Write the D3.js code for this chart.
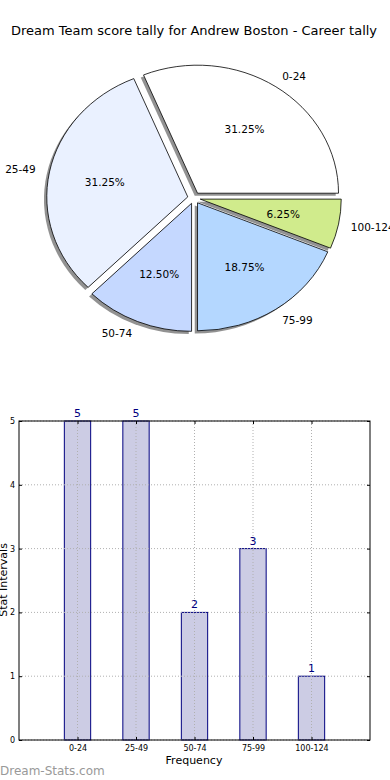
<!DOCTYPE html>
<html><head><meta charset="utf-8">
<script src="https://cdn.jsdelivr.net/npm/d3@7"></script>
<style>body{margin:0;background:#fff;}svg{display:block;font-family:"DejaVu Sans",sans-serif;}</style>
</head><body>
<svg id="c" width="390" height="780"></svg>
<script>
const categories = ["0-24","25-49","50-74","75-99","100-124"];
const counts = [5,5,2,3,1];
const pieColors = ["#ffffff","#eaf1ff","#c5d8ff","#b4d7ff","#d0eb8c"];
const yTicks = [0,1,2,3,4,5];
const title = "Dream Team score tally for Andrew Boston - Career tally";

const svg = d3.select("#c");
svg.append("text").attr("x",194).attr("y",35).attr("text-anchor","middle")
  .attr("font-size",13).attr("fill","#000").text(title);

// ---- Pie (matplotlib style: start at 0deg, counterclockwise, elliptical) ----
const cx = 194, cy = 198, rx = 141, ry = 128, explode = 0.045;
const total = d3.sum(counts);
let acc = 0;
const slices = counts.map((v,i)=>{
  const t1 = acc/total*2*Math.PI; acc += v; const t2 = acc/total*2*Math.PI;
  return {i, v, t1, t2, mid:(t1+t2)/2};
});
const arcGen = d3.arc().innerRadius(0).outerRadius(1);
const pieG = svg.append("g");
slices.forEach(s=>{
  s.ox = cx + explode*rx*Math.cos(s.mid);
  s.oy = cy - explode*ry*Math.sin(s.mid);
  s.d = arcGen({startAngle: Math.PI/2 - s.t2, endAngle: Math.PI/2 - s.t1});
});
// shadows
slices.forEach(s=>{
  pieG.append("path").attr("d",s.d)
    .attr("transform",`translate(${s.ox-2.8},${s.oy+2.6}) scale(${rx},${ry})`)
    .attr("fill","#7f7f7f").attr("fill-opacity",0.85);
});
slices.forEach(s=>{
  pieG.append("path").attr("d",s.d)
    .attr("transform",`translate(${s.ox},${s.oy}) scale(${rx},${ry})`)
    .attr("fill",pieColors[s.i]).attr("stroke","#000").attr("stroke-width",0.8)
    .attr("vector-effect","non-scaling-stroke");
});
slices.forEach(s=>{
  const c = Math.cos(s.mid), sn = Math.sin(s.mid);
  pieG.append("text")
    .attr("x", s.ox + 1.1*rx*c - (c>0?1.5:0)).attr("y", s.oy - 1.1*ry*sn)
    .attr("text-anchor", c>0 ? "start" : "end")
    .attr("dominant-baseline","central")
    .attr("font-size",10.5).text(categories[s.i]);
  pieG.append("text")
    .attr("x", s.ox + 0.6*rx*c).attr("y", s.oy - 0.6*ry*sn)
    .attr("text-anchor","middle").attr("dominant-baseline","central")
    .attr("font-size",10.5).text((s.v/total*100).toFixed(2)+"%");
});

// ---- Bar chart ----
const L=19, R=370, T=421, B=740;
const x = d3.scaleLinear().domain([-1,5]).range([L,R]);
const y = d3.scaleLinear().domain([0,5]).range([B,T]);
const bw = 0.45;
const g = svg.append("g");
g.selectAll("rect.bar").data(counts).enter().append("rect")
  .attr("x",(d,i)=>x(i-bw/2)).attr("width",x(bw)-x(0))
  .attr("y",d=>y(d)).attr("height",d=>y(0)-y(d))
  .attr("fill","#ccccE4").attr("stroke","#000080").attr("stroke-width",1);
yTicks.forEach(t=>{
  g.append("line").attr("x1",L).attr("x2",R).attr("y1",y(t)).attr("y2",y(t))
    .attr("stroke","#b0b0b0").attr("stroke-dasharray","1,2").attr("stroke-width",1);
});
categories.forEach((c,i)=>{
  g.append("line").attr("x1",x(i)).attr("x2",x(i)).attr("y1",T).attr("y2",B)
    .attr("stroke","#b0b0b0").attr("stroke-dasharray","1,2").attr("stroke-width",1);
});
g.append("rect").attr("x",L).attr("y",T).attr("width",R-L).attr("height",B-T)
  .attr("fill","none").attr("stroke","#000").attr("stroke-width",1);
const yAx = g.append("g").attr("transform",`translate(${L},0)`)
  .call(d3.axisLeft(y).tickValues(yTicks).tickFormat(d3.format("d")).tickSize(-3).tickPadding(4));
const yAxR = g.append("g").attr("transform",`translate(${R},0)`)
  .call(d3.axisRight(y).tickValues(yTicks).tickSize(-3).tickFormat(""));
const xAx = g.append("g").attr("transform",`translate(0,${B})`)
  .call(d3.axisBottom(x).tickValues(d3.range(categories.length)).tickFormat(i=>categories[i]).tickSize(-3).tickPadding(5));
const xAxT = g.append("g").attr("transform",`translate(0,${T})`)
  .call(d3.axisTop(x).tickValues(d3.range(categories.length)).tickSize(-3).tickFormat(""));
[yAx,yAxR,xAx,xAxT].forEach(a=>{
  a.select(".domain").remove();
  a.selectAll("text").attr("font-size",8).attr("font-family","DejaVu Sans, sans-serif").attr("fill","#000");
  a.selectAll("line").attr("stroke","#000");
});
g.selectAll("text.val").data(counts).enter().append("text")
  .attr("x",(d,i)=>x(i)).attr("y",d=>y(d)-4).attr("text-anchor","middle")
  .attr("font-size",11).attr("fill","#000080").text(d=>d);
svg.append("text").attr("x",194).attr("y",764).attr("text-anchor","middle")
  .attr("font-size",11).text("Frequency");
svg.append("text").attr("transform","translate(7,580) rotate(-90)").attr("text-anchor","middle")
  .attr("font-size",11).text("Stat Intervals");
svg.append("text").attr("x",0).attr("y",775).attr("font-size",12)
  .attr("fill","#999999").text("Dream-Stats.com");
</script>
</body></html>
